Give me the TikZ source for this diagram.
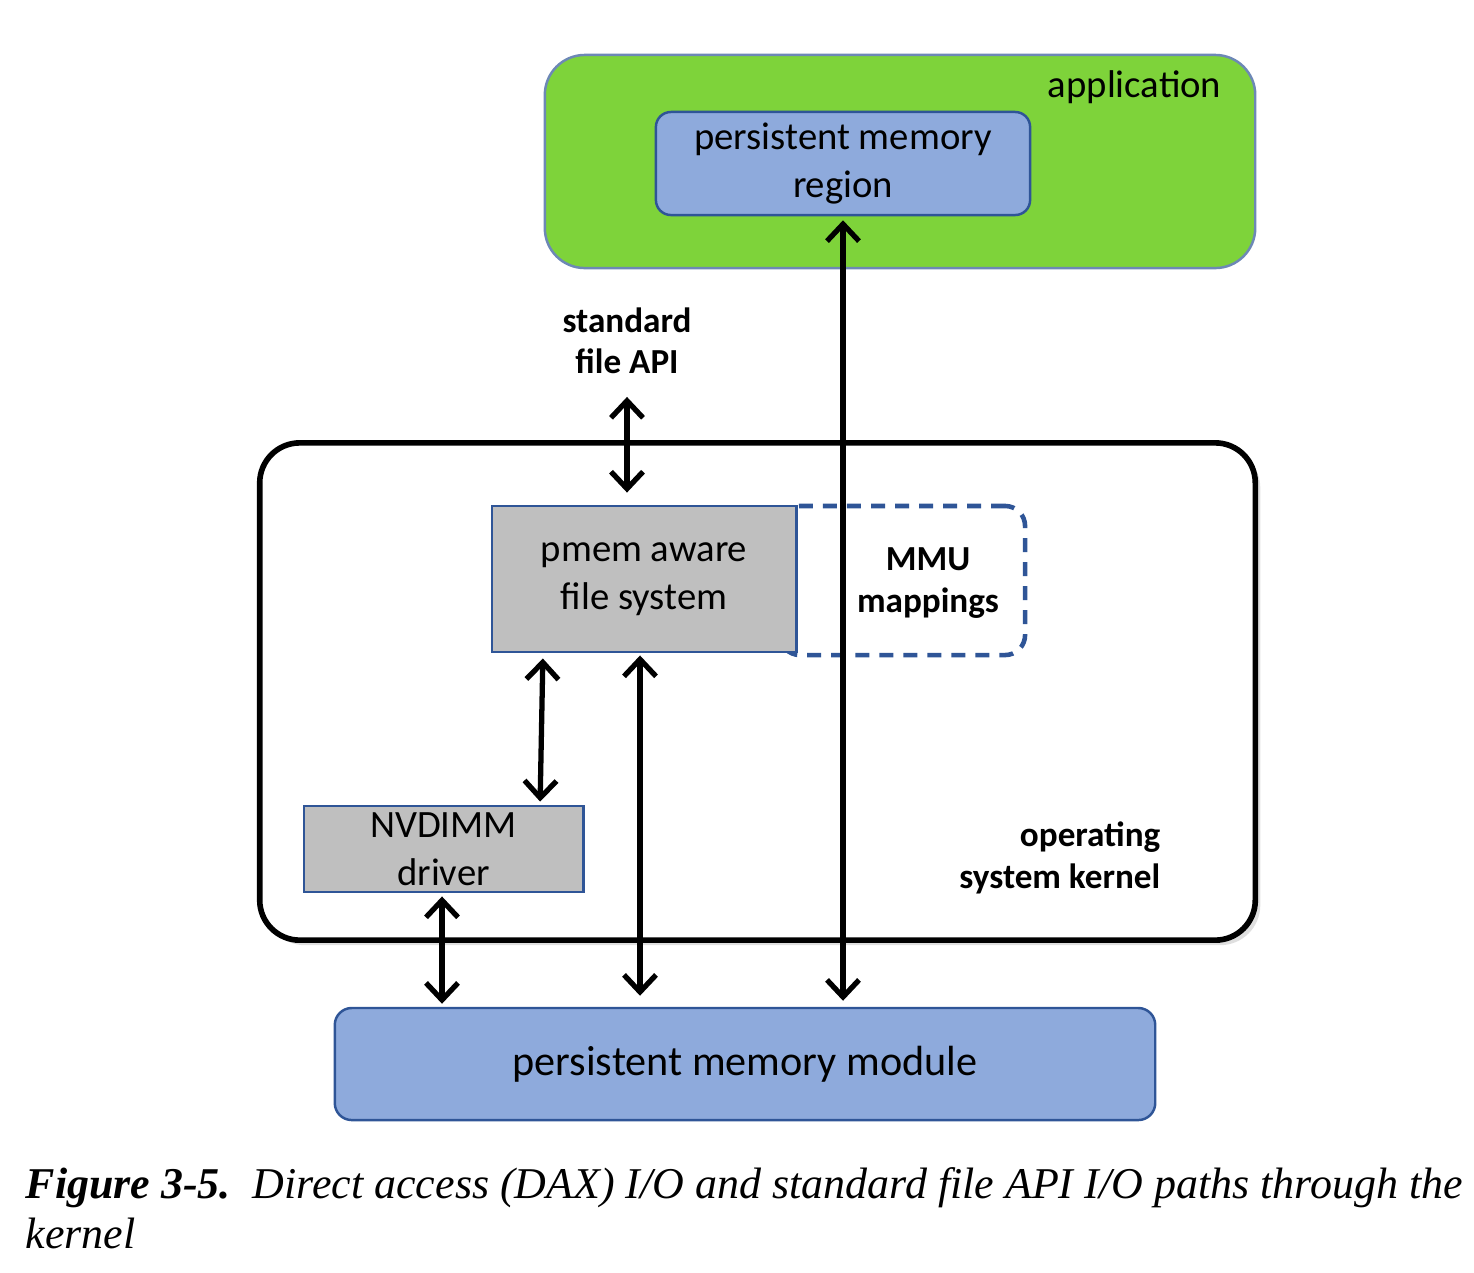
\documentclass[tikz,border=0pt]{standalone}
\usepackage{fontspec}
\setmainfont{Liberation Serif}
\newfontfamily\diagfont{Carlito}
\usepackage{xcolor}
\usepackage{tikz}
\usetikzlibrary{positioning,calc,arrows.meta,shadows}

\definecolor{appgreen}{HTML}{7ED33A}
\definecolor{pmblue}{HTML}{8EAADC}
\definecolor{edgeblue}{HTML}{2F5597}
\definecolor{boxgray}{HTML}{BFBFBF}

\begin{document}
\begin{tikzpicture}[
					x=0.01cm, y=-0.01cm,
					% --- styles ---
					every node/.style={font=\diagfont\fontsize{11}{13.8}\selectfont, align=center, inner sep=0pt},
					blue_box/.style={draw=edgeblue, fill=pmblue, line width=0.7pt, rounded corners=0.15cm},
					gray_box/.style={draw=edgeblue, fill=boxgray, line width=0.8pt},
					bold_label/.style={font=\diagfont\bfseries\fontsize{10}{11.8}\selectfont},
					bi_arrow/.style={line width=1.5pt, {Straight Barb[length=1.7mm,width=3.2mm,line width=1.5pt]}-{Straight Barb[length=1.7mm,width=3.2mm,line width=1.5pt]}}
					]
					\useasboundingbox (0,0) rectangle (1474,1272);
					
					% application
					\node[draw=edgeblue!70, fill=appgreen, line width=0.7pt, rounded corners=0.4cm,
						minimum width=7.1cm, minimum height=2.13cm] (app) at (900,161.5) {};
					\node[anchor=east] (applbl) at (1222,87) {application};
					\node[blue_box, minimum width=3.74cm, minimum height=1.03cm] (pmregion) at (843,163.5)
						{persistent memory\\region};
					
					% standard file API label
					\node[bold_label] (api) at (627,341) {standard\\file API};
					
					% kernel
					\node[draw=black, line width=1.6pt, rounded corners=0.4cm, fill=white,
						drop shadow={shadow xshift=0.05cm, shadow yshift=-0.05cm, opacity=0.25},
						minimum width=9.95cm, minimum height=4.97cm] (kernel) at (757.5,691.5) {};
					\node[bold_label, anchor=east, align=right] (oskernel) at (1161,858) {operating\\system kernel};
					
					% MMU mappings (behind the file system box)
					\node[draw=edgeblue, line width=1.3pt, dash pattern=on 1.4mm off 1mm, rounded corners=0.2cm,
						minimum width=2.45cm, minimum height=1.49cm] (mmu) at (902.5,580.5) {};
					\node[bold_label] (mmulbl) at (928,583) {MMU\\mappings};
					
					\node[gray_box, minimum width=3.04cm, minimum height=1.46cm] (pmemfs) at (644,579)
						{pmem aware\\file system};
					\node[gray_box, minimum width=2.79cm, minimum height=0.86cm] (nvdimm) at (443.5,849)
						{NVDIMM\\driver};
					
					% module
					\node[blue_box, rounded corners=0.17cm, font=\diagfont\fontsize{12}{14}\selectfont,
						minimum width=8.2cm, minimum height=1.12cm] (pmmodule) at (745,1064)
						{persistent memory module};
					
					% arrows
					\draw[bi_arrow] ([yshift=-0.22cm]api.south) -- ([yshift=0.12cm]pmemfs.north -| api.south);
					\draw[bi_arrow, shorten <=0.04cm, shorten >=0.06cm] (pmregion.south) -- (pmregion.south |- pmmodule.north);
					\draw[bi_arrow, shorten <=0.05cm, shorten >=0.03cm] ([xshift=-1.01cm]pmemfs.south) -- ([xshift=0.965cm]nvdimm.north);
					\draw[bi_arrow, shorten <=0.02cm, shorten >=0.11cm] ([xshift=-0.04cm]pmemfs.south) -- ([xshift=-0.04cm]pmemfs.south |- pmmodule.north);
					\draw[bi_arrow, shorten <=0.03cm, shorten >=0.03cm] ([xshift=-0.015cm]nvdimm.south) -- ([xshift=-0.015cm]nvdimm.south |- pmmodule.north);
					
					% caption
					\node[anchor=base west, align=left, font=\rmfamily\itshape\fontsize{12.5}{14.2}\selectfont] (caption) at (25,1248)
						{\textbf{Figure 3-5.}\ \ Direct access (DAX) I/O and standard file API I/O paths through the\\kernel};
				\end{tikzpicture}
\end{document}
